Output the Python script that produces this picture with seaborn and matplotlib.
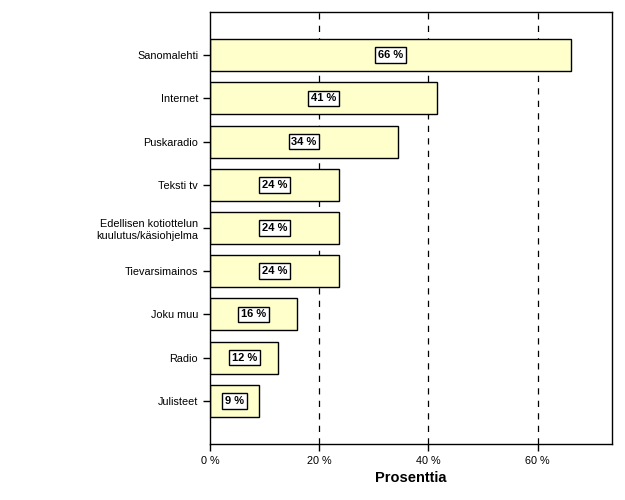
import matplotlib
matplotlib.use('Agg')
import matplotlib.pyplot as plt
import seaborn as sns

categories = ['Sanomalehti', 'Internet', 'Puskaradio', 'Teksti tv',
              'Edellisen kotiottelun\nkuulutus/käsiohjelma', 'Tievarsimainos',
              'Joku muu', 'Radio', 'Julisteet']
values = [66.2, 41.5, 34.4, 23.7, 23.7, 23.7, 16.0, 12.5, 9.0]
bar_labels = ['66 %', '41 %', '34 %', '24 %', '24 %', '24 %', '16 %', '12 %', '9 %']
x_ticks = [0, 20, 40, 60]
x_tick_labels = ['0 %', '20 %', '40 %', '60 %']

sns.set_style('white')
plt.rcParams['font.family'] = ['Liberation Sans', 'DejaVu Sans']
plt.rcParams['text.color'] = 'black'
plt.rcParams['axes.labelcolor'] = 'black'
plt.rcParams['xtick.color'] = 'black'
plt.rcParams['ytick.color'] = 'black'

fig = plt.figure(figsize=(6.25, 5), dpi=100)
ax = fig.add_axes([0.336, 0.112, 0.643, 0.864])

sns.barplot(x=values, y=categories, orient='h', color='#FFFFCC',
            edgecolor='black', linewidth=1, width=0.74, saturation=1, ax=ax)

# labels in white boxes at the bar centres
ax.bar_label(ax.containers[0], labels=bar_labels, label_type='center',
             fontsize=8, fontweight='bold', color='black',
             bbox=dict(boxstyle='square,pad=0.25', facecolor='white',
                       edgecolor='black', linewidth=1))

for x in x_ticks[1:]:
    ax.axvline(x, color='black', linestyle=(0, (5, 5)), linewidth=0.9, zorder=0)

ax.set_xlim(0, 73.6)
ax.set_ylim(9, -1)
ax.set_xticks(x_ticks)
ax.set_xticklabels(x_tick_labels)
ax.tick_params(axis='both', labelsize=7.8, length=5, width=1, direction='out',
               color='black', labelcolor='black', bottom=True, left=True)
ax.set_xlabel('Prosenttia', fontsize=10.5, fontweight='bold', color='black')
ax.set_ylabel('')
for spine in ax.spines.values():
    spine.set_visible(True)
    spine.set_color('black')
    spine.set_linewidth(1)

fig.savefig('out.png', dpi=100)
